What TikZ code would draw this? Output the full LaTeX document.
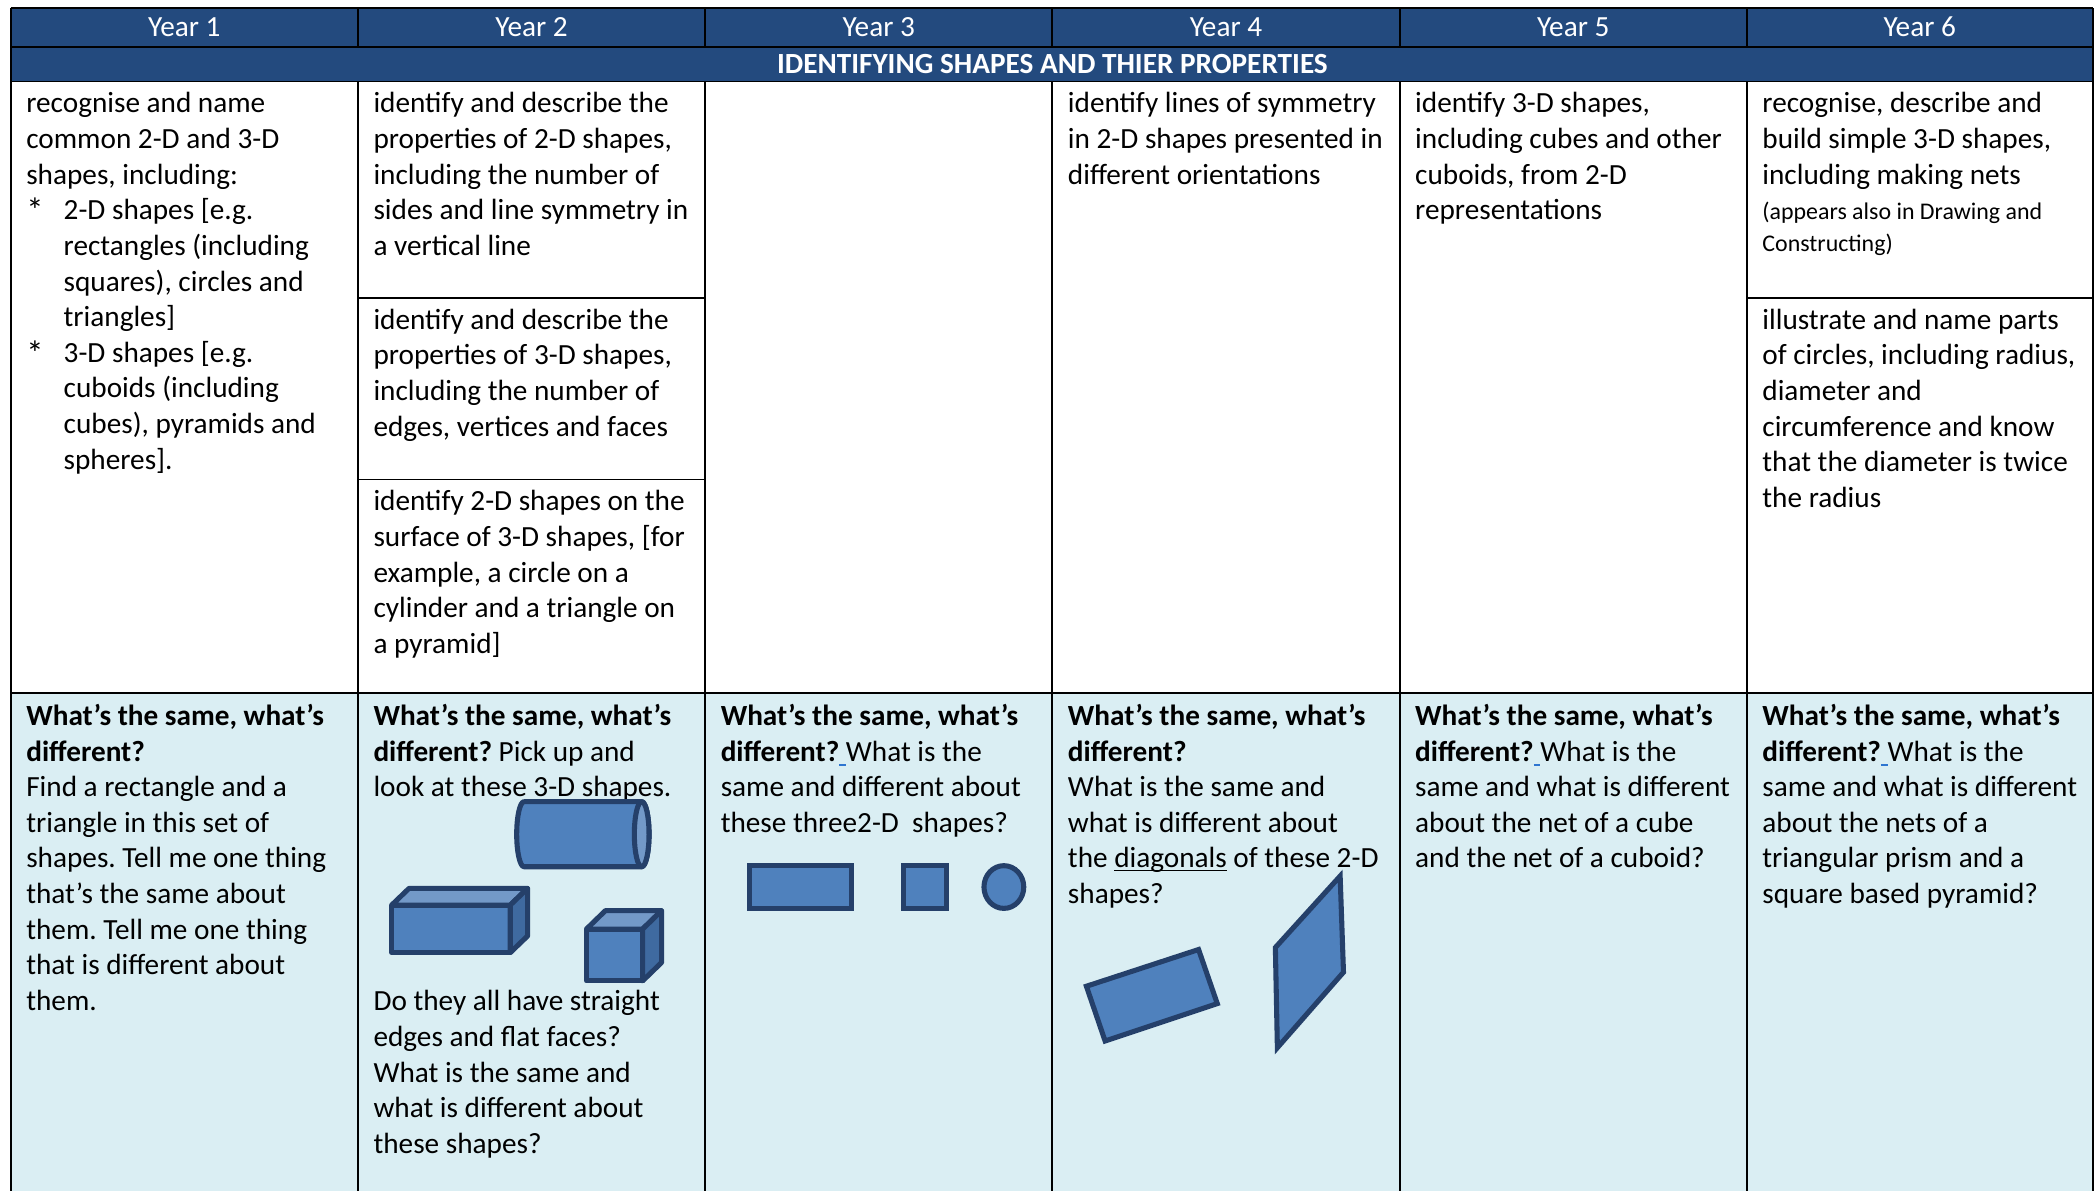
\documentclass[tikz,border=0pt]{standalone}
\usepackage{fontspec}
\setmainfont{Carlito}
\frenchspacing
\definecolor{navy}{HTML}{234A7E}
\definecolor{paleblue}{HTML}{DAEEF3}
\definecolor{shapefill}{HTML}{4F81BD}
\definecolor{shapeline}{HTML}{25406A}
\definecolor{shapelite}{HTML}{7399C8}
\definecolor{shapedark}{HTML}{3F6AA0}
\definecolor{markblue}{HTML}{2E75D0}
\newcommand{\gapmark}{\makebox[0pt][l]{\color{markblue}\rule[-4pt]{5pt}{1.4pt}}\ }
\newcommand{\subind}{\hspace*{28pt}}
\newcommand{\subbul}{\makebox[28pt][l]{\raisebox{-2pt}{\fontsize{26}{26.7}\selectfont *}}}
\newcommand{\lineunder}[1]{\setbox0\hbox{#1}\rlap{\rule[-2.6pt]{\wd0}{1.3pt}}\box0\relax}
\begin{document}
\begin{tikzpicture}[x=1pt, y=-1pt, line width=1.4pt,
	head/.style={anchor=base, inner sep=0pt, text=white, font=\fontsize{21.9}{26.7}\selectfont},
	cell/.style={anchor=north west, inner sep=0pt, align=left, font=\fontsize{21.9}{26.7}\selectfont, execute at begin node=\strut},
	shp/.style={draw=shapeline, fill=shapefill, line width=3.8pt, line join=miter},
	solid face/.style={shp, line join=round}]
	\useasboundingbox (0,0) rectangle (1568,892);
	% backgrounds
	\fill[navy]     (8,6)   rectangle (1567,61);
	\fill[paleblue] (8,519) rectangle (1567,892);
	% header row
	\node[head] (yr1) at (138,27)    {Year 1};
	\node[head] (yr2) at (398,27)    {Year 2};
	\node[head] (yr3) at (658,27)    {Year 3};
	\node[head] (yr4) at (918,27)    {Year 4};
	\node[head] (yr5) at (1178,27)   {Year 5};
	\node[head] (yr6) at (1437.5,27) {Year 6};
	\node[head, font=\fontsize{21.9}{26.7}\selectfont\bfseries] (title) at (788,55) {IDENTIFYING SHAPES AND THIER PROPERTIES};
	% grid
	\draw (8,6) -- (1567,6);
	\draw (8,35) -- (1567,35);
	\draw (8,61) -- (1567,61);
	\draw (8,519) -- (1567,519);
	\draw (268,223) -- (528,223);
	\draw (268,359) -- (528,359);
	\draw (1308,223) -- (1567,223);
	\draw (8,6) -- (8,892);
	\draw (1567,6) -- (1567,892);
	\draw (268,6) -- (268,35)   (268,61) -- (268,892);
	\draw (528,6) -- (528,35)   (528,61) -- (528,892);
	\draw (788,6) -- (788,35)   (788,61) -- (788,892);
	\draw (1048,6) -- (1048,35) (1048,61) -- (1048,892);
	\draw (1308,6) -- (1308,35) (1308,61) -- (1308,892);
	% statements
	\node[cell] (y1top) at (19,68.5) {recognise and name\\common 2-D and 3-D\\shapes, including:\\\subbul2-D shapes [e.g.\\\subind rectangles (including\\\subind squares), circles and\\\subind triangles]\\\subbul3-D shapes [e.g.\\\subind cuboids (including\\\subind cubes), pyramids and\\\subind spheres].};
	\node[cell] (y2a) at (279,68.5)  {identify and describe the\\properties of 2-D shapes,\\including the number of\\sides and line symmetry in\\a vertical line};
	\node[cell] (y2b) at (279,230.5) {identify and describe the\\properties of 3-D shapes,\\including the number of\\edges, vertices and faces};
	\node[cell] (y2c) at (279,366.5) {identify 2-D shapes on the\\surface of 3-D shapes, [for\\example, a circle on a\\cylinder and a triangle on\\a pyramid]};
	\node[cell] (y4top) at (799,68.5)  {identify lines of symmetry\\in 2-D shapes presented in\\different orientations};
	\node[cell] (y5top) at (1059,68.5) {identify 3-D shapes,\\including cubes and other\\cuboids, from 2-D\\representations};
	\node[cell] (y6a) at (1319,68.5)   {recognise, describe and\\build simple 3-D shapes,\\including making nets\\{\fontsize{17.9}{24}\selectfont (appears also in Drawing and}\\[-2.7pt]{\fontsize{17.9}{24}\selectfont Constructing)}};
	\node[cell] (y6b) at (1319,230.5)  {illustrate and name parts\\of circles, including radius,\\diameter and\\circumference and know\\that the diameter is twice\\the radius};
	% questions
	\node[cell] (y1q) at (19,526.5)   {\textbf{What’s the same, what’s}\\\textbf{different?}\\Find a rectangle and a\\triangle in this set of\\shapes. Tell me one thing\\that’s the same about\\them. Tell me one thing\\that is different about\\them.};
	\node[cell] (y2q) at (279,526.5)  {\textbf{What’s the same, what’s}\\\textbf{different?} Pick up and\\look at these 3-D shapes.};
	\node[cell] (y2r) at (279,741) {Do they all have straight\\edges and flat faces?\\What is the same and\\what is different about\\these shapes?};
	\node[cell] (y3q) at (539,526.5)  {\textbf{What’s the same, what’s}\\\textbf{different?}\gapmark What is the\\same and different about\\these three2-D\ \ shapes?};
	\node[cell] (y4q) at (799,526.5)  {\textbf{What’s the same, what’s}\\\textbf{different?}\\What is the same and\\what is different about\\the \lineunder{diagonals} of these 2-D\\shapes?};
	\node[cell] (y5q) at (1059,526.5) {\textbf{What’s the same, what’s}\\\textbf{different?}\gapmark What is the\\same and what is different\\about the net of a cube\\and the net of a cuboid?};
	\node[cell] (y6q) at (1319,526.5) {\textbf{What’s the same, what’s}\\\textbf{different?}\gapmark What is the\\same and what is different\\about the nets of a\\triangular prism and a\\square based pyramid?};
	% year 2 solids
	\filldraw[solid face] (392.4,600.3) -- (480.5,600.3) arc[start angle=270, end angle=450, x radius=5.5, y radius=24.35] -- (392.4,649) arc[start angle=90, end angle=270, x radius=5.5, y radius=24.35] -- cycle;
	\filldraw[solid face, fill=shapelite] (480.5,624.65) ellipse[x radius=5.5, y radius=24.35];
	\filldraw[solid face] (293.3,677.7) rectangle (382.1,713.3);
	\filldraw[solid face, fill=shapelite] (293.3,677.7) -- ++(13,-12.5) -- ++(88.8,0) -- (382.1,677.7) -- cycle;
	\filldraw[solid face, fill=shapedark] (382.1,677.7) -- ++(13,-12.5) -- ++(0,35.6) -- (382.1,713.3) -- cycle;
	\filldraw[solid face] (439.1,695.7) rectangle (481.2,734.5);
	\filldraw[solid face, fill=shapelite] (439.1,695.7) -- ++(14.2,-13.8) -- ++(42.1,0) -- (481.2,695.7) -- cycle;
	\filldraw[solid face, fill=shapedark] (481.2,695.7) -- ++(14.2,-13.8) -- ++(0,38.8) -- (481.2,734.5) -- cycle;
	% year 3 flat shapes
	\filldraw[shp] (560.9,648.2) rectangle (637.9,680.1);
	\filldraw[shp] (676.7,648.2) rectangle (708.8,680.1);
	\filldraw[shp] (751.7,664.2) ellipse[x radius=14.9, y radius=16];
	% year 4 flat shapes
	\filldraw[shp] (813.5,738.5) -- (897.5,711) -- (911.5,751.5) -- (827.5,779.5) -- cycle;
	\filldraw[shp] (955,709.5) -- (1003.5,656) -- (1006,728) -- (956.5,784.5) -- cycle;
\end{tikzpicture}
\end{document}
